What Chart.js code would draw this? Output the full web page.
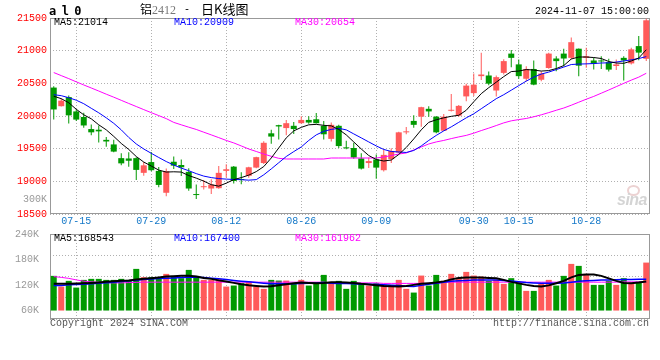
<!DOCTYPE html>
<html>
<head>
<meta charset="utf-8">
<title>铝2412 - 日K线图</title>
<script src="https://cdn.jsdelivr.net/npm/chart.js@4/dist/chart.umd.min.js"></script>
<style>
  body { margin: 0; background: #fff; }
  #wrap { position: relative; width: 660px; height: 360px; overflow: hidden; background: #fff; }
  canvas { position: absolute; left: 0; top: 0; }
  .t { position: absolute; font: 10px/10px "Liberation Mono", monospace; white-space: pre; color: #000; }
</style>
</head>
<body>
<div id="wrap">
  <canvas id="kline" width="660" height="360"></canvas>
  <canvas id="vol" width="660" height="360"></canvas>

  <div class="t" style="left:49px;top:5px;font:bold 12px/12px 'DejaVu Sans Mono';letter-spacing:-0.9px">a l 0</div>
  <div class="t" style="left:140px;top:3px;font:12px/12px 'Noto Sans CJK SC'">铝</div>
  <div class="t" style="left:152px;top:4px;font:12px/12px 'Liberation Serif';color:#777">2412</div>
  <div class="t" style="left:184px;top:5px">-</div>
  <div class="t" style="left:201px;top:2px;font:13px/13px 'Noto Sans CJK SC'">日K线图</div>
  <div class="t" style="left:535px;top:7px">2024-11-07 15:00:00</div>

  <div class="t" style="left:54px;top:18px">MA5:21014</div>
  <div class="t" style="left:174px;top:18px;color:#0000ff">MA10:20909</div>
  <div class="t" style="left:295px;top:18px;color:#ff00ff">MA30:20654</div>

  <div class="t" style="left:23px;top:195px;color:#999">300K</div>

  <div class="t" style="left:54px;top:234px">MA5:168543</div>
  <div class="t" style="left:174px;top:234px;color:#0000ff">MA10:167400</div>
  <div class="t" style="left:295px;top:234px;color:#ff00ff">MA30:161962</div>

  <div class="t" style="left:50px;top:319px;color:#555">Copyright 2024 SINA.COM</div>
  <div class="t" style="left:493px;top:319px;color:#555">http://finance.sina.com.cn</div>

  <div style="position:absolute;left:627px;top:185px;width:9px;height:7px;border:2px solid #ecd2d2;border-radius:50%"></div>
  <div class="t" style="left:617px;top:192px;font:italic bold 16px/16px 'Liberation Sans';color:#d4d4d4;letter-spacing:-0.5px">sina</div>
</div>

<script>
// 交易日
const dates = [
  "07-10", "07-11", "07-12", "07-15", "07-16", "07-17", "07-18", "07-19", "07-22", "07-23",
  "07-24", "07-25", "07-26", "07-29", "07-30", "07-31", "08-01", "08-02", "08-05", "08-06",
  "08-07", "08-08", "08-09", "08-12", "08-13", "08-14", "08-15", "08-16", "08-19", "08-20",
  "08-21", "08-22", "08-23", "08-26", "08-27", "08-28", "08-29", "08-30", "09-02", "09-03",
  "09-04", "09-05", "09-06", "09-09", "09-10", "09-11", "09-12", "09-13", "09-18", "09-19",
  "09-20", "09-23", "09-24", "09-25", "09-26", "09-27", "09-30", "10-08", "10-09", "10-10",
  "10-11", "10-14", "10-15", "10-16", "10-17", "10-18", "10-21", "10-22", "10-23", "10-24",
  "10-25", "10-28", "10-29", "10-30", "10-31", "11-01", "11-04", "11-05", "11-06", "11-07",
];
const tickDates = ["07-15", "07-29", "08-12", "08-26", "09-09", "09-30", "10-15", "10-28"];

const open = [
  20435, 20150, 20290, 20070, 19985, 19800, 19790, 19635, 19565, 19355,
  19350, 19355, 19130, 19295, 19160, 18825, 19300, 19250, 19145, 18805,
  18910, 18890, 18895, 19160, 19225, 19035, 19085, 19210, 19280, 19735,
  19860, 19815, 19850, 19890, 19940, 19950, 19850, 19650, 19850, 19520,
  19510, 19350, 19280, 19335, 19170, 19340, 19440, 19750, 19925, 19990,
  20110, 19990, 19775, 20080, 20005, 20300, 20350, 20610, 20620, 20390,
  20660, 20955, 20790, 20570, 20720, 20555, 20735, 20880, 20955, 20890,
  21030, 20890, 20850, 20850, 20825, 20765, 20890, 20805, 21070, 20875,
];
const high = [
  20455, 20270, 20315, 20105, 20050, 19870, 19855, 19680, 19635, 19430,
  19445, 19370, 19295, 19450, 19220, 19195, 19380, 19335, 19200, 18950,
  19020, 19030, 19235, 19260, 19235, 19140, 19225, 19375, 19615, 19790,
  19865, 19940, 19910, 19995, 19995, 20045, 19925, 19900, 19865, 19620,
  19590, 19430, 19365, 19410, 19490, 19505, 19760, 19830, 20010, 20140,
  20150, 20000, 20030, 20335, 20170, 20495, 20650, 20970, 20680, 20620,
  20870, 21010, 20865, 20760, 20850, 20685, 20970, 20915, 21030, 21200,
  21035, 21045, 20890, 20915, 20875, 20865, 20915, 21045, 21225, 21490,
];
const low = [
  19945, 20145, 19885, 19925, 19820, 19705, 19595, 19530, 19445, 19245,
  19225, 19020, 19085, 19155, 18910, 18770, 19190, 19080, 18855, 18730,
  18875, 18805, 18885, 19060, 18965, 18955, 19055, 19200, 19265, 19575,
  19640, 19705, 19725, 19880, 19880, 19885, 19640, 19610, 19510, 19490,
  19345, 19180, 19205, 19040, 19150, 19280, 19430, 19720, 19820, 19835,
  19990, 19735, 19770, 20070, 19990, 20225, 20305, 20550, 20470, 20300,
  20635, 20745, 20570, 20530, 20470, 20530, 20725, 20685, 20760, 20870,
  20610, 20740, 20710, 20720, 20680, 20705, 20545, 20790, 20855, 20840,
];
const close = [
  20100, 20235, 20010, 19945, 19855, 19750, 19765, 19610, 19455, 19275,
  19315, 19175, 19245, 19170, 18945, 19155, 19240, 19215, 18890, 18790,
  18925, 18950, 19130, 19185, 19005, 19020, 19215, 19370, 19590, 19685,
  19840, 19890, 19800, 19940, 19900, 19890, 19720, 19865, 19540, 19505,
  19365, 19195, 19310, 19210, 19405, 19465, 19750, 19765, 19865, 20135,
  20070, 19750, 19990, 20090, 20155, 20465, 20480, 20635, 20495, 20595,
  20840, 20890, 20610, 20720, 20480, 20650, 20955, 20840, 20880, 21130,
  20770, 20915, 20800, 20835, 20710, 20790, 20850, 21020, 20970, 21465,
];

// 均线
const ma5 = [
  20303, 20265, 20203, 20103, 20018, 19957, 19865, 19788, 19688, 19580,
  19488, 19380, 19295, 19234, 19172, 19142, 19146, 19142, 19088, 19049,
  19003, 18949, 18926, 18972, 19026, 19057, 19095, 19149, 19226, 19357,
  19511, 19665, 19772, 19826, 19865, 19872, 19857, 19849, 19795, 19711,
  19603, 19495, 19395, 19334, 19311, 19326, 19411, 19518, 19649, 19788,
  19903, 19942, 19972, 19995, 20011, 20088, 20218, 20342, 20434, 20518,
  20603, 20680, 20688, 20711, 20703, 20688, 20695, 20726, 20772, 20872,
  20903, 20903, 20895, 20880, 20834, 20811, 20806, 20842, 20888, 21014,
];
const ma10 = [
  20326, 20311, 20280, 20242, 20188, 20118, 20049, 19972, 19888, 19788,
  19672, 19572, 19495, 19429, 19365, 19303, 19249, 19203, 19162, 19118,
  19080, 19057, 19042, 19034, 19029, 19025, 19018, 19026, 19100, 19190,
  19285, 19380, 19455, 19526, 19626, 19711, 19765, 19795, 19811, 19788,
  19726, 19665, 19603, 19542, 19488, 19457, 19449, 19442, 19472, 19542,
  19626, 19703, 19772, 19834, 19903, 19972, 20034, 20111, 20188, 20265,
  20326, 20395, 20465, 20534, 20595, 20642, 20672, 20711, 20749, 20788,
  20795, 20798, 20803, 20811, 20814, 20826, 20842, 20860, 20880, 20909,
];
const ma30 = [
  20665, 20618, 20572, 20523, 20475, 20429, 20382, 20334, 20288, 20240,
  20192, 20145, 20098, 20051, 20006, 19960, 19902, 19865, 19829, 19794,
  19752, 19711, 19669, 19626, 19588, 19542, 19495, 19457, 19418, 19383,
  19352, 19342, 19342, 19342, 19342, 19342, 19342, 19357, 19357, 19357,
  19357, 19357, 19357, 19357, 19372, 19395, 19418, 19434, 19480, 19526,
  19572, 19603, 19626, 19654, 19680, 19703, 19737, 19777, 19814, 19854,
  19895, 19926, 19945, 19962, 19988, 20018, 20052, 20088, 20122, 20165,
  20211, 20257, 20300, 20349, 20398, 20449, 20500, 20549, 20595, 20654,
];
const priceTicks = [18500, 19000, 19500, 20000, 20500, 21000, 21500];

// 成交量
const volume = [
  142000, 116700, 130200, 114300, 132500, 134900, 134900, 132500, 132500, 134900,
  132500, 158500, 138900, 138900, 138900, 146700, 142000, 136500, 156100, 142000,
  132500, 132500, 134200, 116700, 119100, 124700, 128500, 116700, 111300, 132500,
  130900, 130900, 124700, 132500, 119100, 124700, 144300, 127100, 130200, 111300,
  130200, 124700, 119100, 124700, 120700, 120700, 132500, 111300, 102500, 142700,
  119100, 144300, 130200, 146700, 137900, 151400, 142700, 140300, 130200, 132500,
  123100, 136500, 126100, 106500, 106500, 123100, 132500, 119100, 142000, 170300,
  165600, 146700, 120700, 120700, 130200, 120700, 136500, 126100, 128500, 173400,
];
const volMa5 = [
  123100, 123100, 123100, 124200, 124700, 125400, 126100, 127800, 129000, 130200,
  131300, 133200, 134900, 136500, 138400, 140300, 141300, 142000, 142000, 140300,
  137200, 134900, 131300, 128500, 125400, 122400, 120000, 118300, 116700, 117600,
  120000, 122400, 124700, 126100, 125400, 124700, 125400, 127100, 127100, 126600,
  125400, 123100, 121400, 120000, 118300, 117200, 116700, 118300, 120700, 123100,
  124700, 126100, 129000, 133700, 137200, 137900, 137900, 137900, 137200, 136500,
  132500, 127800, 124200, 120700, 118300, 116700, 119500, 124700, 130200, 138400,
  144300, 145500, 145000, 142000, 136100, 130200, 125400, 124700, 126100, 128500,
];
const volMa10 = [
  119000, 119500, 120700, 121400, 122400, 123500, 124700, 125900, 127100, 128500,
  130200, 131800, 133200, 134400, 135600, 136500, 137200, 137900, 138900, 138900,
  137900, 136500, 134900, 133200, 131300, 129400, 127800, 126100, 124700, 123100,
  123100, 123100, 123100, 123800, 124700, 125400, 126100, 124700, 124200, 123800,
  123100, 122400, 121900, 121400, 120700, 120000, 119000, 117600, 116700, 119500,
  122400, 124700, 127100, 129000, 130200, 131300, 132000, 132500, 132500, 132500,
  131300, 129700, 127800, 126100, 125400, 124700, 124700, 124700, 125400, 127100,
  129000, 130200, 131300, 132000, 132500, 133000, 133200, 133700, 134200, 134200,
];
const volMa30 = [
  140300, 138400, 136100, 132500, 129400, 127800, 127100, 126100, 125400, 125400,
  126100, 126600, 127100, 127100, 127100, 127100, 127100, 127100, 127100, 127100,
  127100, 127100, 127100, 127100, 127100, 127100, 127100, 127100, 127100, 127100,
  127100, 127100, 127100, 127100, 127100, 127100, 127100, 125400, 125400, 125400,
  125400, 125400, 125400, 125400, 124200, 124200, 124200, 124200, 124200, 124200,
  124200, 124200, 127100, 127100, 127100, 127100, 127100, 127100, 127100, 127100,
  127100, 127100, 127100, 127100, 127100, 127100, 127100, 127100, 127100, 127100,
  127100, 127100, 127100, 127100, 127100, 127100, 127800, 127800, 127800, 127800,
];
const volTicks = [60000, 120000, 180000, 240000];
const volBase = 60000;
const volMin = 40000;
const volMax = 241000;

const FONT = { family: "'Liberation Mono', monospace", size: 10 };
const GRID = "#b0b0b0";
const DOT = [1, 2];
const UP = "#ff5a5a";
const DOWN = "#009900";

// 红涨绿跌
const barColor = close.map((c, i) => (c > open[i] ? UP : DOWN));

// 外框
const frame = {
  id: "frame",
  beforeDatasetsDraw(chart) {
    const { ctx, chartArea: a } = chart;
    ctx.save();
    ctx.strokeStyle = "#999";
    ctx.lineWidth = 1;
    ctx.strokeRect(a.left + 0.5, a.top + 0.5, a.right - a.left - 1, a.bottom - a.top - 1);
    ctx.restore();
  },
};

const xGridColor = (c) => (tickDates.includes(dates[c.index]) ? GRID : "rgba(0,0,0,0)");

const maLine = (label, data, color, width) => ({
  type: "line",
  label,
  data,
  borderColor: color,
  borderWidth: width,
  pointRadius: 0,
  tension: 0,
  fill: false,
  order: 0,
});

const klineChart = new Chart(document.getElementById("kline"), {
  type: "bar",
  data: {
    labels: dates,
    datasets: [
      maLine("MA5", ma5, "#000000", 1),
      maLine("MA10", ma10, "#0000ff", 1),
      maLine("MA30", ma30, "#ff00ff", 1),
      {
        label: "body",
        data: open.map((o, i) => [Math.min(o, close[i]), Math.max(o, close[i])]),
        backgroundColor: barColor,
        barThickness: 6,
        minBarLength: 1,
        inflateAmount: 0,
        grouped: false,
        order: 1,
      },
      {
        label: "wick",
        data: low.map((l, i) => [l, high[i]]),
        backgroundColor: barColor,
        barThickness: 1,
        inflateAmount: 0,
        grouped: false,
        order: 2,
      },
    ],
  },
  options: {
    responsive: false,
    animation: false,
    events: [],
    layout: { padding: { top: 18, right: 10, bottom: 132, left: 0 } },
    plugins: { legend: { display: false }, tooltip: { enabled: false } },
    scales: {
      x: {
        ticks: {
          autoSkip: false,
          maxRotation: 0,
          color: "#1478c8",
          font: FONT,
          padding: 1,
          callback: (v, i) => (tickDates.includes(dates[i]) ? dates[i] : ""),
        },
        grid: { offset: false, drawTicks: false, color: xGridColor },
        border: { display: false, dash: DOT },
        afterFit: (s) => { s.height = 14; },
      },
      y: {
        min: priceTicks[0],
        max: priceTicks[priceTicks.length - 1],
        afterBuildTicks: (s) => { s.ticks = priceTicks.map((v) => ({ value: v })); },
        ticks: { color: "#ff0000", font: FONT, padding: 3, callback: (v) => String(v) },
        grid: { color: GRID, drawTicks: false },
        border: { display: false, dash: DOT },
        afterFit: (s) => { s.width = 50; },
      },
    },
  },
  plugins: [frame],
});

const volChart = new Chart(document.getElementById("vol"), {
  type: "bar",
  data: {
    labels: dates,
    datasets: [
      maLine("MA5", volMa5, "#000000", 2),
      maLine("MA10", volMa10, "#0000ff", 1.5),
      maLine("MA30", volMa30, "#ff00ff", 1),
      {
        label: "volume",
        data: volume,
        base: volBase,
        backgroundColor: barColor,
        barThickness: 6,
        inflateAmount: 0,
        order: 1,
      },
    ],
  },
  options: {
    responsive: false,
    animation: false,
    events: [],
    layout: { padding: { top: 234, right: 10, bottom: 41, left: 0 } },
    plugins: { legend: { display: false }, tooltip: { enabled: false } },
    scales: {
      x: {
        ticks: { display: false },
        grid: { offset: false, drawTicks: false, color: xGridColor },
        border: { display: false, dash: DOT },
        afterFit: (s) => { s.height = 0; },
      },
      y: {
        min: volMin,
        max: volMax,
        afterBuildTicks: (s) => { s.ticks = volTicks.map((v) => ({ value: v })); },
        ticks: { color: "#999", font: FONT, padding: 3, callback: (v) => v / 1000 + "K" },
        grid: { display: false },
        border: { display: false },
        afterFit: (s) => { s.width = 50; },
      },
      yq: {
        position: "right",
        min: 0,
        max: 4,
        ticks: { display: false, stepSize: 1 },
        grid: { color: GRID, drawTicks: false },
        border: { display: false, dash: DOT },
        afterFit: (s) => { s.width = 0; },
      },
    },
  },
  plugins: [frame],
});
</script>
</body>
</html>
